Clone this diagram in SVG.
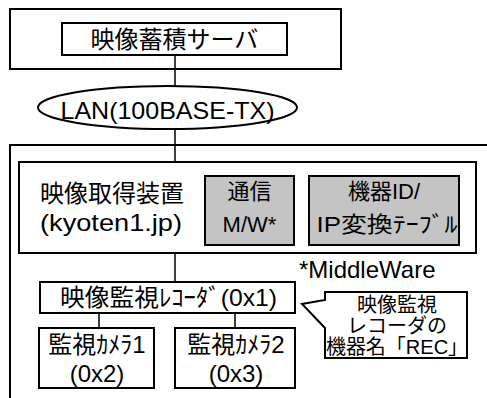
<svg xmlns="http://www.w3.org/2000/svg" width="487" height="398" viewBox="0 0 487 398">
<style>
text{font-family:"Liberation Sans","Noto Sans CJK JP",sans-serif;fill:#000}
.box{fill:#fff;stroke:#000;stroke-width:2}
.gray{fill:#c4c4c4;stroke:#000;stroke-width:2}
.ln{fill:none;stroke:#000;stroke-width:1.5}
.t24{font-size:24px}
.t22{font-size:22px}
.t20{font-size:20px}
.c{text-anchor:middle}
</style>
<rect width="487" height="398" fill="#fff"/>
<g id="server-site">
<rect class="box" x="10" y="9" width="331" height="60"/>
</g>
<g id="lower-site">
<path class="box" d="M10 400 V145 H490" fill="none"/>
</g>
<g id="connectors">
<path class="ln" d="M175 55 V86 M175 129 V162 M175 253 V282 M99 313 V328 M235 313 V328"/>
</g>
<g id="server">
<rect class="box" x="62" y="23" width="225" height="32"/>
<text class="t24 c" x="174.5" y="48">映像蓄積サーバ</text>
</g>
<g id="lan">
<ellipse class="box" cx="167.5" cy="107.5" rx="129.5" ry="21.5"/>
<text class="t24 c" x="167.5" y="119" textLength="214" lengthAdjust="spacingAndGlyphs">LAN(100BASE-TX)</text>
</g>
<g id="acquirer">
<rect class="box" x="19" y="162" width="457" height="91"/>
<text class="t24" x="40" y="202">映像取得装置</text>
<text class="t24" x="40" y="231" textLength="142" lengthAdjust="spacingAndGlyphs">(kyoten1.jp)</text>
</g>
<g id="mw">
<rect class="gray" x="205" y="176" width="89" height="69"/>
<text class="t22 c" x="249.5" y="199">通信</text>
<text class="t22 c" x="249.5" y="232">M/W*</text>
</g>
<g id="table">
<rect class="gray" x="309" y="176" width="150" height="69"/>
<text class="t22 c" x="384" y="199">機器ID/</text>
<text class="t22 c" x="387" y="232" textLength="141" lengthAdjust="spacingAndGlyphs">IP変換ﾃｰﾌﾞﾙ</text>
</g>
<g id="note">
<text class="t24" x="299" y="278">*MiddleWare</text>
</g>
<g id="recorder">
<rect class="box" x="40" y="282" width="255" height="31"/>
<text class="t24" x="60" y="306" textLength="217" lengthAdjust="spacingAndGlyphs">映像監視ﾚｺｰﾀﾞ(0x1)</text>
</g>
<g id="camera1">
<rect class="box" x="39" y="328" width="115" height="60"/>
<text class="t24 c" x="97" y="353">監視ｶﾒﾗ1</text>
<text class="t24 c" x="97" y="382">(0x2)</text>
</g>
<g id="camera2">
<rect class="box" x="175" y="328" width="120" height="60"/>
<text class="t24 c" x="236" y="353">監視ｶﾒﾗ2</text>
<text class="t24 c" x="236" y="382">(0x3)</text>
</g>
<g id="callout">
<path class="box" d="M325 292 H467 V358 H325 V328 L302 304 L325 300 Z"/>
<text class="t20 c" x="397" y="312">映像監視</text>
<text class="t20 c" x="397" y="333">レコーダの</text>
<text class="t20 c" x="397" y="354">機器名「REC」</text>
</g>
</svg>
